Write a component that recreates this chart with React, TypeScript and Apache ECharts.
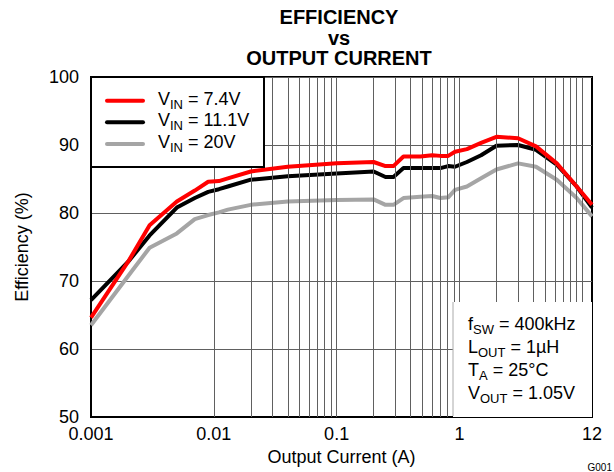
import React, { useEffect, useRef } from 'react';
import * as echarts from 'echarts';

// Output current (A)
const currentA = [0.001, 0.002, 0.003, 0.005, 0.007, 0.009, 0.011, 0.013, 0.02, 0.04, 0.1, 0.2, 0.25, 0.29, 0.35, 0.48, 0.6, 0.7, 0.81, 0.92, 1.15, 1.5, 2, 3, 4.2, 6.2, 9, 12];
// Efficiency (%) per input voltage
const eff74 = [64.6, 72.8, 78.2, 81.7, 83.3, 84.6, 84.7, 85.1, 86.1, 86.8, 87.3, 87.5, 86.9, 86.9, 88.3, 88.3, 88.5, 88.4, 88.4, 89.0, 89.4, 90.3, 91.2, 91.0, 89.8, 87.3, 83.9, 81.2];
const eff111 = [67.2, 72.8, 76.7, 80.8, 82.2, 83.1, 83.5, 83.9, 84.9, 85.4, 85.8, 86.1, 85.3, 85.3, 86.6, 86.6, 86.6, 86.6, 86.9, 86.8, 87.5, 88.5, 89.9, 90.0, 89.3, 87.1, 83.9, 80.8];
const eff20 = [63.5, 70.7, 74.9, 77.0, 79.1, 79.7, 80.1, 80.5, 81.2, 81.7, 81.9, 82.0, 81.2, 81.2, 82.2, 82.4, 82.5, 82.2, 82.3, 83.4, 83.9, 85.1, 86.4, 87.3, 86.8, 84.9, 82.2, 79.5];

const seriesNames = ['VIN = 7.4V', 'VIN = 11.1V', 'VIN = 20V'];
const legendLabels = ['V{sub|IN} = 7.4V', 'V{sub|IN} = 11.1V', 'V{sub|IN} = 20V'];
const seriesColors = ['#ff0000', '#000000', '#a5a5a5'];

// log-decade grid lines
const xGridLines = [
  0.002, 0.003, 0.004, 0.005, 0.006, 0.007, 0.008, 0.009, 0.01,
  0.02, 0.03, 0.04, 0.05, 0.06, 0.07, 0.08, 0.09, 0.1,
  0.2, 0.3, 0.4, 0.5, 0.6, 0.7, 0.8, 0.9, 1,
  2, 3, 4, 5, 6, 7, 8, 9, 10,
];

const xMin = 0.001;
const xMax = 12;
const yMin = 50;
const yMax = 100;
const yInterval = 10;

const titleText = 'EFFICIENCY\nvs\nOUTPUT CURRENT';
const xAxisName = 'Output Current (A)';
const yAxisName = 'Efficiency (%)';
const noteLines = ['f{sub|SW} = 400kHz', 'L{sub|OUT} = 1µH', 'T{sub|A} = 25°C', 'V{sub|OUT} = 1.05V'];
const figureId = 'G001';

const FONT = 'Liberation Sans, Arial, Helvetica, sans-serif';
const GRID_COLOR = '#606060';

export default function App() {
  const ref = useRef<HTMLDivElement>(null);

  useEffect(() => {
    const chart = echarts.init(ref.current!, null, { renderer: 'svg' });

    const seriesData = [eff74, eff111, eff20];
    const richSub = {
      sub: { fontSize: 13, fontFamily: FONT, fill: '#000', padding: [11, 0, 0, 0] },
    };

    const legendY = [98.7, 120.3, 142.3];
    const lineY = [100.7, 122.3, 144];
    const noteY = [324, 347, 370, 393];

    const graphics: any[] = [
      {
        type: 'rect',
        z: 100,
        shape: { x: 91, y: 77, width: 173, height: 90 },
        style: { fill: '#fff', stroke: '#000', lineWidth: 2 },
      },
      ...seriesColors.map((c, i) => ({
        type: 'line',
        z: 101,
        shape: { x1: 107, y1: lineY[i], x2: 143, y2: lineY[i] },
        style: { stroke: c, lineWidth: 4, lineCap: 'round' },
      })),
      ...legendLabels.map((t, i) => ({
        type: 'text',
        z: 101,
        x: 158,
        y: legendY[i],
        style: {
          text: t,
          fontSize: 18,
          fontFamily: FONT,
          fill: '#000',
          align: 'left',
          verticalAlign: 'middle',
          rich: richSub,
        },
      })),
      {
        type: 'rect',
        z: 100,
        shape: { x: 453, y: 302, width: 139, height: 115 },
        style: { fill: '#fff', stroke: null },
      },
      {
        type: 'line',
        z: 101,
        shape: { x1: 453, y1: 302, x2: 453, y2: 416 },
        style: { stroke: '#aaaaaa', lineWidth: 1 },
      },
      ...noteLines.map((t, i) => ({
        type: 'text',
        z: 101,
        x: 468,
        y: noteY[i],
        style: {
          text: t,
          fontSize: 18,
          fontFamily: FONT,
          fill: '#000',
          align: 'left',
          verticalAlign: 'middle',
          rich: richSub,
        },
      })),
      {
        type: 'text',
        z: 101,
        x: 612,
        y: 467,
        style: {
          text: figureId,
          fontSize: 10,
          fontFamily: FONT,
          fill: '#000',
          align: 'right',
          verticalAlign: 'middle',
        },
      },
    ];

    const option: any = {
      animation: false,
      backgroundColor: '#fff',
      textStyle: { fontFamily: FONT },
      title: {
        text: titleText,
        left: 339,
        top: 7,
        textAlign: 'center',
        padding: 0,
        textStyle: {
          fontFamily: FONT,
          fontWeight: 'bold',
          fontSize: 20,
          lineHeight: 20.5,
          color: '#000',
        },
      },
      grid: {
        left: 91,
        right: 22,
        top: 77,
        bottom: 55,
        show: true,
        borderColor: '#000',
        borderWidth: 2,
        backgroundColor: 'transparent',
        containLabel: false,
        outerBoundsMode: 'none',
      },
      xAxis: {
        type: 'log',
        logBase: 10,
        min: xMin,
        max: xMax,
        name: xAxisName,
        nameLocation: 'middle',
        nameGap: 29,
        nameTextStyle: { fontFamily: FONT, fontSize: 18, color: '#000' },
        axisLine: { show: true, lineStyle: { color: '#000', width: 2 } },
        axisTick: { show: false },
        splitLine: { show: false },
        axisLabel: {
          fontFamily: FONT,
          fontSize: 18,
          color: '#000',
          margin: 8,
          showMinLabel: true,
          showMaxLabel: true,
          formatter: (v: number) => {
            const r = Number(Number(v).toPrecision(4));
            if (Math.abs(r - 10) < 1e-6) return '';
            return String(r);
          },
        },
      },
      yAxis: {
        type: 'value',
        min: yMin,
        max: yMax,
        interval: yInterval,
        name: yAxisName,
        nameLocation: 'middle',
        nameGap: 60,
        nameTextStyle: { fontFamily: FONT, fontSize: 18, color: '#000' },
        axisLine: { show: true, lineStyle: { color: '#000', width: 2 } },
        axisTick: { show: false },
        splitLine: { show: true, lineStyle: { color: GRID_COLOR, width: 1 } },
        axisLabel: { fontFamily: FONT, fontSize: 18, color: '#000', margin: 12 },
      },
      series: [
        {
          type: 'line',
          name: 'grid',
          data: [],
          z: 1,
          silent: true,
          markLine: {
            silent: true,
            symbol: ['none', 'none'],
            label: { show: false },
            lineStyle: { color: GRID_COLOR, width: 1, type: 'solid' },
            emphasis: { disabled: true },
            data: xGridLines.map((v) => ({ xAxis: v })),
          },
        },
        ...seriesData.map((d, i) => ({
          type: 'line',
          name: seriesNames[i],
          z: 5 - i,
          symbol: 'none',
          clip: true,
          lineStyle: { color: seriesColors[i], width: 4, join: 'round' },
          itemStyle: { color: seriesColors[i] },
          data: currentA.map((x, j) => [x, d[j]]),
        })),
      ],
      graphic: graphics,
    };

    chart.setOption(option);
    return () => chart.dispose();
  }, []);

  return (
    <div
      ref={ref}
      style={{ position: 'absolute', left: 0, top: 0, width: 614, height: 472 }}
    />
  );
}
